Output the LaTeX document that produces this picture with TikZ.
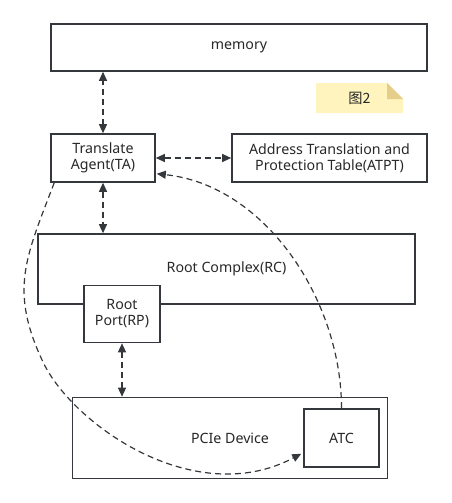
\documentclass[tikz,border=0pt]{standalone}
\usepackage{fontspec}
\setmainfont{Noto Sans}
\newfontfamily\cjkfont{Noto Sans CJK SC}
\usetikzlibrary{arrows.meta,calc}
\definecolor{ln}{RGB}{52,56,60}
\definecolor{txt}{RGB}{40,40,40}
\definecolor{notefill}{RGB}{255,244,190}
\definecolor{notefold}{RGB}{228,206,138}
\begin{document}
\begin{tikzpicture}[x=1pt,y=-1pt,
  box/.style={draw=ln,line width=1.6pt,fill=white,inner sep=0pt,
    font=\fontsize{14.2}{16}\selectfont,text=txt,align=center},
  dar/.style={draw=ln,line width=1.2pt,dash pattern=on 6pt off 4pt,{Triangle[length=9pt,width=8pt]}-{Triangle[length=9pt,width=8pt]}},
  sar/.style={draw=ln,line width=1.2pt,dash pattern=on 6pt off 4pt,-{Triangle[length=9pt,width=8pt]}}]
\useasboundingbox (0,0) rectangle (452,503);
% note
\fill[notefill] (316,83) -- (387,83) -- (403,99) -- (403,113) -- (316,113) -- cycle;
\fill[notefold] (387,83) -- (403,99) -- (387,99) -- cycle;
\node[font=\fontsize{14.2}{16}\selectfont,text=txt] (note) at (359.5,98.5) {\cjkfont 图2};
% boxes
\node[box,minimum width=376pt,minimum height=47pt] (mem) at (239,47.5) {memory};
\node[box,minimum width=104pt,minimum height=48pt] (ta) at (103,158) {Translate\\Agent(TA)};
\node[box,minimum width=195pt,minimum height=48pt] (atpt) at (329.5,158) {Address Translation and\\Protection Table(ATPT)};
\node[box,minimum width=377pt,minimum height=70pt] (rc) at (226.5,269) {Root Complex(RC)};
\node[box,minimum width=76pt,minimum height=57pt] (rp) at (122,314) {Root\\Port(RP)};
\node[box,minimum width=315pt,minimum height=81pt] (pcie) at (230,438) {PCIe Device};
\node[box,minimum width=75pt,minimum height=58pt] (atc) at (341.5,438) {ATC};
% connectors
\draw[dar] (ta.north) -- (ta.north |- mem.south);
\draw[dar] (ta.east) -- (atpt.west);
\draw[dar] (ta.south) -- (ta.south |- rc.north);
\draw[dar] (rp.south) -- (rp.south |- pcie.north);
\draw[sar] ($(ta.south west)+(4,0)$) .. controls (26,257) and (8.8,289.7) .. (43,362)
   .. controls (73,425) and (195,510) .. ($(atc.south west)+(-2,-14)$);
\draw[sar] (atc.north) .. controls (341.5,300) and (265,185) .. ($(ta.south east)+(1,-9)$);
\end{tikzpicture}
\end{document}
